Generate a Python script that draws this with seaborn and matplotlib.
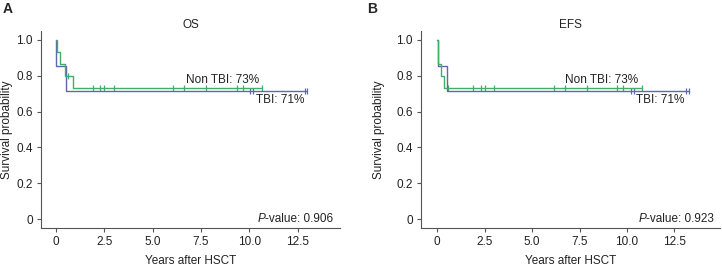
import matplotlib
matplotlib.use("Agg")
import matplotlib.pyplot as plt
import seaborn as sns
import pandas as pd

sns.set_theme(style="ticks")
plt.rcParams['font.family'] = ['Liberation Sans', 'DejaVu Sans']

# ---- data ----
# OS panel
os_tbi_t = [0, 0.02, 0.5, 13.0]
os_tbi_s = [1.0, 0.857, 0.714, 0.714]
os_tbi_cens = [10.02, 10.22, 12.87, 12.99]
os_non_t = [0, 0.05, 0.2, 0.45, 0.9, 10.67]
os_non_s = [1.0, 0.933, 0.867, 0.8, 0.733, 0.733]
os_non_cens = [0.6, 1.92, 2.3, 2.49, 3.0, 6.04, 6.64, 7.75, 9.36, 9.67, 10.67]
os_non_cens_s = [0.8] + [0.733] * 10

# EFS panel
efs_tbi_t = [0, 0.02, 0.5, 13.26]
efs_tbi_s = [1.0, 0.857, 0.714, 0.714]
efs_tbi_cens = [10.2, 10.37, 13.13, 13.26]
efs_non_t = [0, 0.06, 0.2, 0.37, 10.81]
efs_non_s = [1.0, 0.867, 0.8, 0.733, 0.733]
efs_non_cens = [0.55, 1.88, 2.29, 2.5, 2.99, 6.14, 6.73, 7.88, 9.46, 9.79, 10.81]

titles = ["OS", "EFS"]
panel_letters = ["A", "B"]
pvalues = ["0.906", "0.923"]
non_label = "Non TBI: 73%"
tbi_label = "TBI: 71%"
xticks = [0, 2.5, 5.0, 7.5, 10.0, 12.5]
xticklabels = ["0", "2.5", "5.0", "7.5", "10.0", "12.5"]
yticks = [0, 0.2, 0.4, 0.6, 0.8, 1.0]
yticklabels = ["0", "0.2", "0.4", "0.6", "0.8", "1.0"]

GREEN = "#3fae6a"
BLUE = "#5c68b2"
SPINE = "#555555"
TXT = "#222222"
FS = 8.5

fig = plt.figure(figsize=(7.22, 2.69), dpi=100)
axA = fig.add_axes([41/722, 1-228/269, 299/722, 197/269])
axB = fig.add_axes([421/722, 1-228/269, 299/722, 197/269])

panels = [
    (axA, os_tbi_t, os_tbi_s, os_tbi_cens, os_non_t, os_non_s, os_non_cens, os_non_cens_s,
     (-0.78, 14.7), (8.63, 12.85, 14.35)),
    (axB, efs_tbi_t, efs_tbi_s, efs_tbi_cens, efs_non_t, efs_non_s, efs_non_cens,
     [0.733] * len(efs_non_cens), (-0.85, 14.9), (8.68, 13.0, 14.6)),
]

for i, (ax, tt, ts, tc, nt, ns, nc, ncs, xlim, tx) in enumerate(panels):
    df_t = pd.DataFrame({"t": tt, "s": ts})
    df_n = pd.DataFrame({"t": nt, "s": ns})
    sns.lineplot(data=df_t, x="t", y="s", ax=ax, drawstyle="steps-post",
                 estimator=None, color=BLUE, linewidth=1.0)
    sns.lineplot(data=df_n, x="t", y="s", ax=ax, drawstyle="steps-post",
                 estimator=None, color=GREEN, linewidth=1.0)
    sns.scatterplot(x=tc, y=[0.714] * len(tc), ax=ax, marker="|", s=22,
                    color=BLUE, linewidth=0.9)
    sns.scatterplot(x=nc, y=ncs, ax=ax, marker="|", s=22,
                    color=GREEN, linewidth=0.9)

    ax.set_xlim(*xlim)
    ax.set_ylim(-0.05, 1.05)
    ax.set_xticks(xticks)
    ax.set_xticklabels(xticklabels)
    ax.set_yticks(yticks)
    ax.set_yticklabels(yticklabels)
    ax.tick_params(labelsize=FS, length=3, width=0.8, color=SPINE,
                   labelcolor=TXT, pad=3)
    for sp in ["top", "right"]:
        ax.spines[sp].set_visible(False)
    for sp in ["left", "bottom"]:
        ax.spines[sp].set_color(SPINE)
        ax.spines[sp].set_linewidth(0.8)
    ax.set_xlabel("Years after HSCT", fontsize=FS, color=TXT, labelpad=4.5)
    ax.set_ylabel("Survival probability", fontsize=FS, color=TXT, labelpad=6)
    ax.set_title(titles[i], fontsize=FS, color=TXT, pad=1.5)

    ax.text(tx[0], 0.776, non_label, fontsize=FS, ha="center", va="center", color=TXT)
    ax.text(tx[1], 0.665, tbi_label, fontsize=FS, ha="right", va="center", color=TXT)
    ax.text(tx[2], -0.002, "-value: " + pvalues[i], fontsize=FS, ha="right",
            va="center", color=TXT)
    t = ax.texts[-1]
    fig.canvas.draw()
    bb = t.get_window_extent()
    inv = ax.transData.inverted()
    x0 = inv.transform((bb.x0, bb.y0))[0]
    ax.text(x0, -0.002, "P", fontsize=FS, ha="right", va="center",
            style="italic", color=TXT)

axA.yaxis.set_label_coords(-28/299, 0.5)
axB.yaxis.set_label_coords(-36/299, 0.5)

fig.text(3/722, 1-9/269, panel_letters[0], fontsize=10, fontweight="bold", va="center", ha="left")
fig.text(367/722, 1-9/269, panel_letters[1], fontsize=10, fontweight="bold", va="center", ha="left")

fig.savefig("out.png", dpi=100)
